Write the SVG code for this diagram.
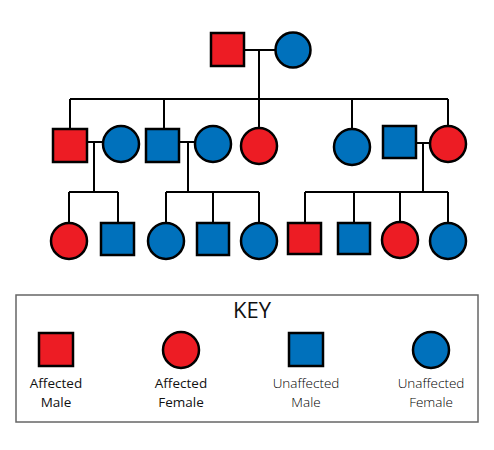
<svg xmlns="http://www.w3.org/2000/svg" width="494" height="450" viewBox="0 0 494 450">
<style>
.am{fill:#ED1C24;stroke:#000;stroke-width:2.5}
.um{fill:#0071BC;stroke:#000;stroke-width:2.5}
.c{fill:none;stroke:#000;stroke-width:2}
.t{font-family:"Open Sans","DejaVu Sans",sans-serif;font-size:13.5px;text-anchor:middle;fill:#111}
.tl{font-weight:300;fill:#000}
.ta{font-weight:500}
</style>
<rect width="494" height="450" fill="#fff"/>
<g id="connectors">
<path class="c" d="M244 50H276M259 50V99M70 99H448M70 99V129M164 99V129M259 99V128M352 99V129M448 99V126"/>
<path class="c" d="M87 142H103M94 142V192M69 192H118M69 192V223M118 192V223"/>
<path class="c" d="M179 142H195M188 142V192M166 192H259M166 192V223M213 192V223M259 192V223"/>
<path class="c" d="M416 143H430M423 143V192M305 192H448M305 192V223M354 192V223M400 192V222M448 192V223"/>
</g>
<g id="g1-father"><rect class="am" x="211" y="33" width="33" height="33"/></g>
<g id="g1-mother"><circle class="um" cx="293" cy="50" r="17.5"/></g>
<g id="g2-m1"><rect class="am" x="53" y="129" width="34" height="33"/></g>
<g id="g2-f1"><circle class="um" cx="121" cy="144" r="18"/></g>
<g id="g2-m2"><rect class="um" x="146" y="129" width="33" height="33"/></g>
<g id="g2-f2"><circle class="um" cx="213" cy="144" r="18"/></g>
<g id="g2-f3"><circle class="am" cx="259" cy="146" r="18"/></g>
<g id="g2-f4"><circle class="um" cx="352" cy="147" r="18"/></g>
<g id="g2-m3"><rect class="um" x="383" y="126" width="33" height="32"/></g>
<g id="g2-f5"><circle class="am" cx="448" cy="144" r="18"/></g>
<g id="g3-1"><circle class="am" cx="69" cy="241" r="18"/></g>
<g id="g3-2"><rect class="um" x="101" y="223" width="33" height="32"/></g>
<g id="g3-3"><circle class="um" cx="166" cy="241" r="18"/></g>
<g id="g3-4"><rect class="um" x="197" y="223" width="32" height="32"/></g>
<g id="g3-5"><circle class="um" cx="259" cy="241" r="18"/></g>
<g id="g3-6"><rect class="am" x="288" y="223" width="33" height="31"/></g>
<g id="g3-7"><rect class="um" x="338" y="223" width="32" height="31"/></g>
<g id="g3-8"><circle class="am" cx="400" cy="240" r="18"/></g>
<g id="g3-9"><circle class="um" cx="448" cy="241" r="18"/></g>
<g id="key">
<rect x="16" y="295" width="462" height="127" fill="#fff" stroke="#666" stroke-width="1.5"/>
<text x="252" y="318" style="font-family:'Open Sans','DejaVu Sans',sans-serif;font-size:22px;text-anchor:middle;fill:#111">KEY</text>
<rect class="am" x="39" y="333" width="34" height="33"/>
<circle class="am" cx="181" cy="350" r="18"/>
<rect class="um" x="289" y="333" width="34" height="33"/>
<circle class="um" cx="431" cy="350" r="18"/>
<text class="t ta" x="56" y="388">Affected</text>
<text class="t ta" x="56" y="407">Male</text>
<text class="t ta" x="181" y="388">Affected</text>
<text class="t ta" x="181" y="407">Female</text>
<text class="t tl" x="306" y="388">Unaffected</text>
<text class="t tl" x="306" y="407">Male</text>
<text class="t tl" x="431" y="388">Unaffected</text>
<text class="t tl" x="431" y="407">Female</text>
</g>
</svg>
